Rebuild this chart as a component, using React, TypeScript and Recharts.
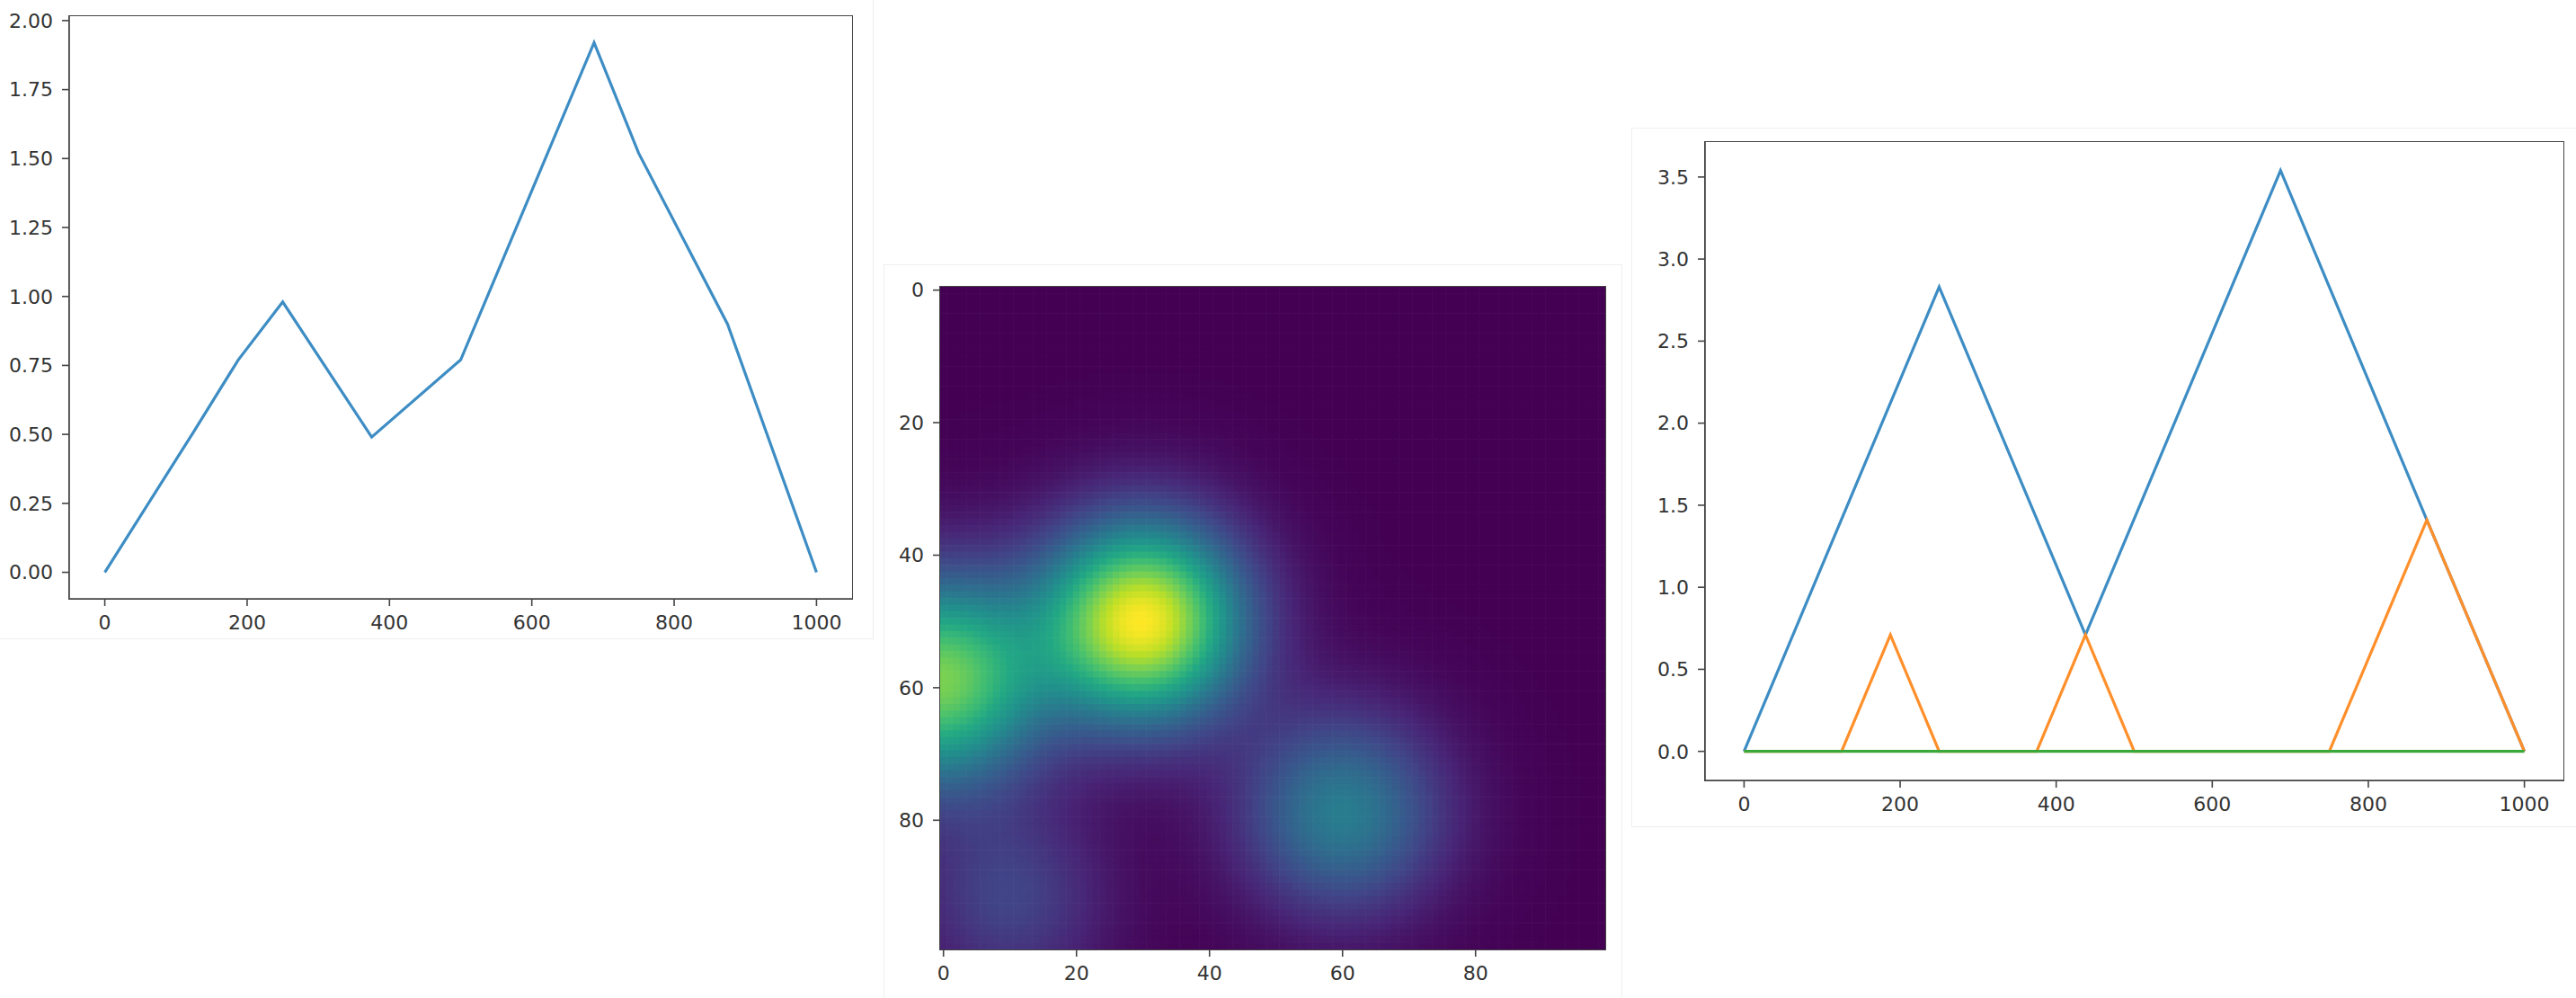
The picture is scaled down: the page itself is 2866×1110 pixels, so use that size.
import React from 'react';
import { LineChart, Line, XAxis, YAxis, ScatterChart, Scatter } from 'recharts';

// ---------- Left panel: single line ----------
const leftX = [0, 125, 187.5, 250, 375, 500, 687.5, 750, 875, 1000];
const leftY = [0, 0.51, 0.77, 0.98, 0.49, 0.77, 1.92, 1.52, 0.9, 0];
const leftYTicks = [0, 0.25, 0.5, 0.75, 1.0, 1.25, 1.5, 1.75, 2.0];
const xTicks = [0, 200, 400, 600, 800, 1000];

// ---------- Right panel: three lines ----------
const blueX = [0, 250, 437.5, 687.5, 875, 1000];
const blueY = [0, 2.83, 0.71, 3.54, 1.41, 0];
const orangeX = [0, 125, 187.5, 250, 375, 437.5, 500, 750, 875, 1000];
const orangeY = [0, 0, 0.71, 0, 0, 0.71, 0, 0, 1.41, 0];
const greenX = [0, 250, 500, 750, 1000];
const greenY = [0, 0, 0, 0, 0];
const rightYTicks = [0, 0.5, 1.0, 1.5, 2.0, 2.5, 3.0, 3.5];

// ---------- Middle panel: heatmap (100 x 100 image of blobs) ----------
const gridSize = 100;
const heatTicks = [0, 20, 40, 60, 80];
// blobs: column, row, amplitude, width
const blobCol = [30, -1, 60, 10];
const blobRow = [50, 59, 79, 92];
const blobAmp = [1.0, 0.8, 0.42, 0.2];
const blobWidth = [10.5, 11, 10.5, 10];

const VIRIDIS = ['#440154', '#482475', '#414487', '#355f8d', '#2a788e', '#21918c', '#22a884', '#44bf70', '#7ad151', '#bddf26', '#fde725'];

function hexToRgb(h: string) {
  return [parseInt(h.slice(1, 3), 16), parseInt(h.slice(3, 5), 16), parseInt(h.slice(5, 7), 16)];
}
function viridis(t: number) {
  const tt = Math.max(0, Math.min(1, t));
  const p = tt * (VIRIDIS.length - 1);
  const i = Math.min(Math.floor(p), VIRIDIS.length - 2);
  const f = p - i;
  const a = hexToRgb(VIRIDIS[i]);
  const b = hexToRgb(VIRIDIS[i + 1]);
  const c = a.map((v, k) => Math.round(v + (b[k] - v) * f));
  return `rgb(${c[0]},${c[1]},${c[2]})`;
}

const rawCells: { c: number; r: number; v: number }[] = [];
for (let r = 0; r < gridSize; r++) {
  for (let c = 0; c < gridSize; c++) {
    let v = 0;
    for (let k = 0; k < blobCol.length; k++) {
      const dx = c - blobCol[k];
      const dy = r - blobRow[k];
      v += blobAmp[k] * Math.exp(-(dx * dx + dy * dy) / (2 * blobWidth[k] * blobWidth[k]));
    }
    rawCells.push({ c, r, v });
  }
}
const vmin = Math.min(...rawCells.map((d) => d.v));
const vmax = Math.max(...rawCells.map((d) => d.v));
const heatCells = rawCells.map((d) => ({ ...d, color: viridis((d.v - vmin) / (vmax - vmin)) }));

const leftData = leftX.map((x, i) => ({ x, y: leftY[i] }));
const blueData = blueX.map((x, i) => ({ x, y: blueY[i] }));
const orangeData = orangeX.map((x, i) => ({ x, y: orangeY[i] }));
const greenData = greenX.map((x, i) => ({ x, y: greenY[i] }));

const FONT = 'DejaVu Sans';
const tickStyle = { fill: '#333', fontSize: 22, fontFamily: FONT };
const axisStroke = { stroke: '#444', strokeWidth: 1.6 };

const HEAT_W = 740;
const HEAT_H = 737;

const HeatCell = (props: any) => {
  const { cx, cy, payload } = props;
  const w = HEAT_W / gridSize;
  const h = HEAT_H / gridSize;
  return <rect x={cx - w / 2 - 0.3} y={cy - h / 2 - 0.3} width={w + 0.6} height={h + 0.6} fill={payload.color} stroke="none" />;
};

const boxStyle = (left: number, top: number, width: number, height: number): React.CSSProperties => ({
  position: 'absolute',
  left,
  top,
  width,
  height,
  border: '1px solid #efefef',
  boxSizing: 'border-box',
  background: '#fff',
});

// frame drawn around a plot area (left, top, right, bottom)
const frameStyle = (l: number, t: number, r: number, b: number): React.CSSProperties => ({
  position: 'absolute',
  left: l - 0.8,
  top: t - 0.8,
  width: r - l + 1.6,
  height: b - t + 1.6,
  border: '1.6px solid #444',
  boxSizing: 'border-box',
  pointerEvents: 'none',
});

export default function App() {
  return (
    <div style={{ position: 'absolute', left: 0, top: 0, width: 2866, height: 1110, background: '#fff', overflow: 'hidden' }}>
      <div style={boxStyle(-2, -2, 974, 713)} />
      <div style={boxStyle(983, 294, 822, 840)} />
      <div style={boxStyle(1815, 142, 1070, 778)} />

      {/* Left line chart */}
      <div style={{ position: 'absolute', left: 0, top: 0 }}>
        <LineChart width={971} height={710} margin={{ top: 18, right: 23, left: 0, bottom: 0 }}>
          <XAxis dataKey="x" type="number" domain={[-50, 1050]} ticks={xTicks} allowDataOverflow height={44}
            tick={tickStyle} tickLine={axisStroke} axisLine={axisStroke} tickSize={8} tickMargin={10} />
          <YAxis dataKey="y" type="number" domain={[-0.096, 2.016]} ticks={leftYTicks} allowDataOverflow width={77}
            tick={tickStyle} tickLine={axisStroke} axisLine={axisStroke} tickSize={8} tickMargin={10}
            tickFormatter={(v: number) => v.toFixed(2)} />
          <Line data={leftData} dataKey="y" stroke="#3d8dc4" strokeWidth={3.2} dot={false} isAnimationActive={false} />
        </LineChart>
      </div>
      <div style={frameStyle(77, 18, 948, 666)} />

      {/* Middle heatmap */}
      <div style={{ position: 'absolute', left: 983, top: 294 }}>
        <ScatterChart width={822} height={816} margin={{ top: 25, right: 19, left: 0, bottom: 0 }}>
          <Scatter data={heatCells} dataKey="r" shape={HeatCell} isAnimationActive={false} />
          <XAxis dataKey="c" type="number" domain={[-0.5, 99.5]} ticks={heatTicks} allowDataOverflow height={54}
            tick={tickStyle} tickLine={axisStroke} axisLine={axisStroke} tickSize={8} tickMargin={10} />
          <YAxis dataKey="r" type="number" domain={[-0.5, 99.5]} ticks={heatTicks} reversed allowDataOverflow width={63}
            tick={tickStyle} tickLine={axisStroke} axisLine={axisStroke} tickSize={8} tickMargin={10} />
        </ScatterChart>
      </div>
      <div style={frameStyle(1046, 319, 1786, 1056)} />

      {/* Right three-line chart */}
      <div style={{ position: 'absolute', left: 1815, top: 142 }}>
        <LineChart width={1051} height={777} margin={{ top: 16, right: 14, left: 0, bottom: 0 }}>
          <XAxis dataKey="x" type="number" domain={[-50, 1050]} ticks={xTicks} allowDataOverflow height={51}
            tick={tickStyle} tickLine={axisStroke} axisLine={axisStroke} tickSize={8} tickMargin={10} />
          <YAxis dataKey="y" type="number" domain={[-0.177, 3.713]} ticks={rightYTicks} allowDataOverflow width={82}
            tick={tickStyle} tickLine={axisStroke} axisLine={axisStroke} tickSize={8} tickMargin={10}
            tickFormatter={(v: number) => v.toFixed(1)} />
          <Line data={blueData} dataKey="y" stroke="#3d8dc4" strokeWidth={3.2} dot={false} isAnimationActive={false} />
          <Line data={orangeData} dataKey="y" stroke="#ff8f2a" strokeWidth={3.2} dot={false} isAnimationActive={false} />
          <Line data={greenData} dataKey="y" stroke="#3aa83a" strokeWidth={3.2} dot={false} isAnimationActive={false} />
        </LineChart>
      </div>
      <div style={frameStyle(1897, 158, 2852, 868)} />
    </div>
  );
}
